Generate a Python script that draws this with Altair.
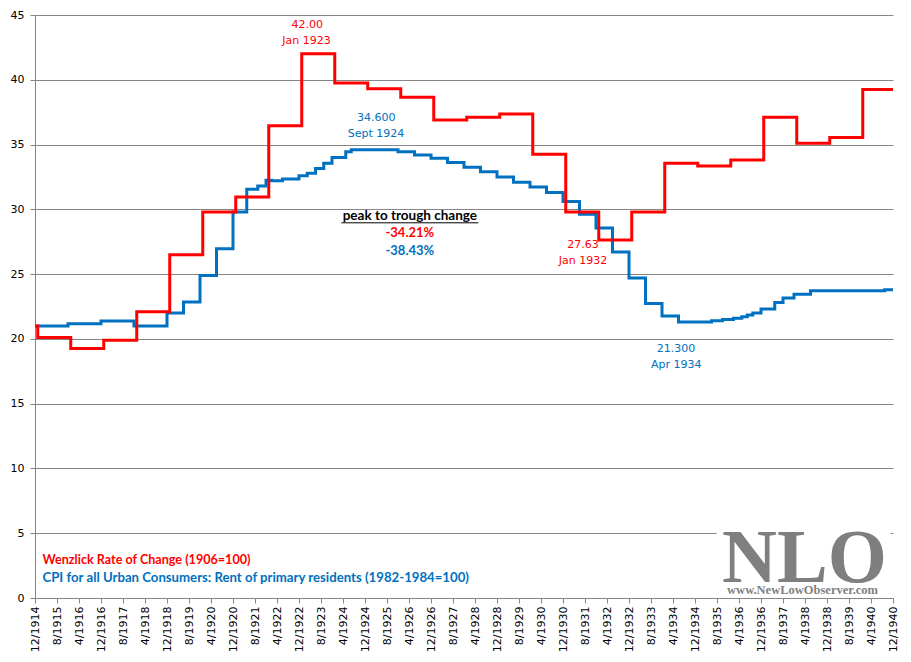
import altair as alt
import pandas as pd

# ---------------- data ----------------
red_dates = ["1914-12", "1915-01", "1916-01", "1917-01", "1918-01", "1919-01", "1920-01",
             "1921-01", "1922-01", "1923-01", "1924-01", "1925-01", "1926-01", "1927-01",
             "1928-01", "1929-01", "1930-01", "1931-01", "1932-01", "1933-01", "1934-01",
             "1935-01", "1936-01", "1937-01", "1938-01", "1939-01", "1940-01", "1940-12"]
red_values = [21.0, 20.1, 19.25, 19.9, 22.1, 26.5, 29.8,
              30.95, 36.45, 42.0, 39.75, 39.3, 38.65, 36.9,
              37.1, 37.35, 34.25, 29.8, 27.63, 29.8, 33.55,
              33.35, 33.8, 37.1, 35.1, 35.55, 39.25, 39.25]

blue_dates = ["1914-12", "1915-12", "1916-12", "1917-12", "1918-12", "1919-06", "1919-12",
              "1920-06", "1920-12", "1921-05", "1921-09", "1921-12", "1922-02", "1922-06",
              "1922-12", "1923-03", "1923-06", "1923-09", "1923-12", "1924-05", "1924-07",
              "1925-12", "1926-06", "1926-12", "1927-06", "1927-12", "1928-06", "1928-12",
              "1929-06", "1929-12", "1930-06", "1930-12", "1931-06", "1931-12", "1932-06",
              "1932-12", "1933-06", "1933-12", "1934-06", "1935-06", "1935-10", "1936-02",
              "1936-05", "1936-07", "1936-09", "1936-12", "1937-05", "1937-08", "1937-12",
              "1938-06", "1940-09", "1940-12"]
blue_values = [21.0, 21.17, 21.38, 21.0, 22.0, 22.85, 24.9,
               26.95, 29.8, 31.55, 31.8, 32.25, 32.2, 32.35,
               32.6, 32.78, 33.15, 33.55, 34.0, 34.45, 34.6,
               34.45, 34.2, 33.95, 33.62, 33.25, 32.9, 32.5,
               32.1, 31.73, 31.3, 30.6, 29.63, 28.55, 26.7,
               24.7, 22.73, 21.77, 21.3, 21.4, 21.5, 21.6,
               21.7, 21.85, 22.0, 22.3, 22.8, 23.15, 23.45,
               23.72, 23.8, 23.8]

red_name = "Wenzlick Rate of Change (1906=100)"
blue_name = "CPI for all Urban Consumers: Rent of primary residents (1982-1984=100)"

y_ticks = [0, 5, 10, 15, 20, 25, 30, 35, 40, 45]
RED = "#FF0000"
BLUE = "#0070C0"
GREY = "#868686"


def month_index(s):
    y, m = s.split("-")
    return (int(y) - 1914) * 12 + int(m) - 12


x_ticks = list(range(month_index("1914-12"), month_index("1940-12") + 1, 8))

red_df = pd.DataFrame({"m": [month_index(d) for d in red_dates], "v": red_values})
blue_df = pd.DataFrame({"m": [month_index(d) for d in blue_dates], "v": blue_values})

X = alt.X("m:Q",
          scale=alt.Scale(domain=[0, 312], nice=False, zero=False),
          axis=alt.Axis(values=x_ticks, title=None, grid=False, labelAngle=-90,
                        labelExpr="((datum.value + 11) % 12 + 1) + '/' + (1914 + floor((datum.value + 11) / 12))",
                        labelFont="DejaVu Sans", labelFontSize=11, labelColor="#000000",
                        labelPadding=3, tickSize=5, tickColor=GREY, domainColor=GREY,
                        labelOverlap=False, labelFlush=False))
Y = alt.Y("v:Q",
          scale=alt.Scale(domain=[0, 45], nice=False),
          axis=alt.Axis(values=y_ticks, title=None, grid=True, gridColor=GREY, gridOpacity=1,
                        labelFont="DejaVu Sans", labelFontSize=11, labelColor="#000000",
                        labelPadding=6, tickSize=5, tickColor=GREY, domainColor=GREY))

blue_line = alt.Chart(blue_df).mark_line(interpolate="step-after", strokeWidth=3, color=BLUE).encode(x=X, y=Y)
red_line = alt.Chart(red_df).mark_line(interpolate="step-after", strokeWidth=3, color=RED).encode(x=X, y=Y)


def text_layer(rows, color, font, size, weight="normal", align="center", baseline="middle"):
    df = pd.DataFrame(rows, columns=["m", "v", "t"])
    return alt.Chart(df).mark_text(color=color, font=font, fontSize=size, fontWeight=weight,
                                   align=align, baseline=baseline).encode(x=X, y=Y, text="t:N")


red_notes = text_layer([(99.0, 44.22, "42.00"), (98.7, 43.03, "Jan 1923"),
                        (199.3, 27.21, "27.63"), (199.3, 25.99, "Jan 1932")],
                       RED, "DejaVu Sans", 11)
blue_notes = text_layer([(124.1, 37.02, "34.600"), (124.0, 35.78, "Sept 1924"),
                         (233.1, 19.21, "21.300"), (233.2, 17.97, "Apr 1934")],
                        BLUE, "DejaVu Sans", 11)
peak_title = text_layer([(136.3, 29.48, "peak to trough change")], "#000000", "Lato", 13.5, "bold")
peak_red = text_layer([(136.3, 28.19, "-34.21%")], RED, "Lato", 13, "bold")
peak_blue = text_layer([(136.3, 26.76, "-38.43%")], BLUE, "Lato", 13, "bold")
underline = alt.Chart(pd.DataFrame({"m": [111.4], "m2": [161.2], "v": [28.96]})).mark_rule(
    color="#000000", strokeWidth=1).encode(x=X, x2="m2:Q", y=Y)

legend_red = text_layer([(2.72, 2.9, red_name)], RED, "Lato", 12.6, "bold", align="left")
legend_blue = text_layer([(2.72, 1.51, blue_name)], BLUE, "Lato", 13.2, "bold", align="left")

wm_box = alt.Chart(pd.DataFrame({"m": [247.9], "m2": [311.1], "v": [4.3], "v2": [5.7]})).mark_rect(
    color="#FFFFFF").encode(x=X, x2="m2:Q", y=Y, y2="v2:Q")
wm_big = text_layer([(279.8, 1.2, "NLO")], "#7F7F7F", "Liberation Serif", 76, "bold",
                    baseline="alphabetic")
wm_small = text_layer([(279.1, 0.33, "www.NewLowObserver.com")], "#7F7F7F", "Liberation Serif", 12.5,
                      "bold", baseline="alphabetic")

chart = alt.layer(
    wm_box, blue_line, red_line, red_notes, blue_notes, peak_title, underline, peak_red, peak_blue,
    legend_red, legend_blue, wm_big, wm_small
).properties(
    width=858, height=583,
    autosize=alt.AutoSizeParams(type="none"),
    padding={"left": 27, "top": 7, "right": 10, "bottom": 62},
    background="#FFFFFF"
).configure_view(stroke="transparent")

chart.save("out.html", embed_options={"renderer": "svg", "actions": False})
